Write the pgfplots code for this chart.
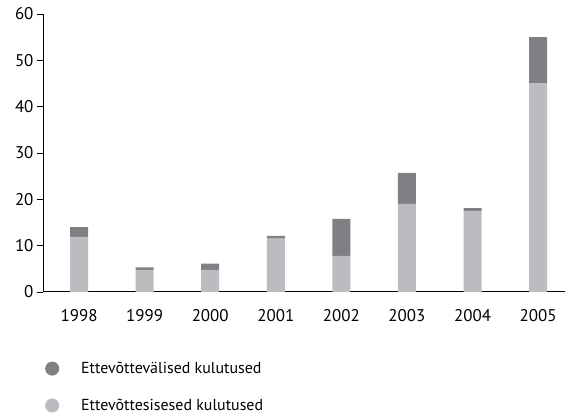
\documentclass[border=0pt]{standalone}
\usepackage{pgfplots}
\pgfplotsset{compat=1.18}
\usepackage{fontspec}
\setmainfont{PT Sans}
\usetikzlibrary{calc}
\definecolor{darkbar}{RGB}{128,128,132}
\definecolor{lightbar}{RGB}{187,188,192}

\begin{document}
\begin{tikzpicture}
\begin{axis}[
  name=ax,
  scale only axis,
  width=522bp, height=278bp,
  ybar stacked,
  bar width=18bp,
  xmin=-0.55, xmax=7.41,
  ymin=0, ymax=60,
  ytick={0,10,...,60},
  xtick=data,
  xticklabels={1998,1999,2000,2001,2002,2003,2004,2005},
  axis x line*=bottom,
  axis y line*=left,
  x axis line style={-, line width=1pt},
  y axis line style={-, line width=0.8pt},
  xtick style={draw=none},
  ytick style={black, line width=0.8pt},
  tick align=outside,
  major tick length=6bp,
  tick label style={font=\fontsize{17}{20}\selectfont},
  /pgf/number format/assume math mode=true,
  xticklabel style={yshift=-8bp},
  reverse legend,
  legend style={draw=none, at={(0,0)}, anchor=north west, xshift=-6bp, yshift=-66bp,
    font=\fontsize{16}{19}\selectfont, row sep=20bp, legend cell align=left},
  legend image code/.code={\path[draw=none,fill=none] (0,-1bp) rectangle (39bp,1bp);\fill[#1,draw=none] (12bp,0) circle (7bp);},
]
\addplot[fill=lightbar, draw=none] coordinates {
  (0,11.9) (1,4.8) (2,4.8) (3,11.5) (4,7.8) (5,19.0) (6,17.5) (7,45.1)};
\addlegendentry{Ettevõttesisesed kulutused}
\addplot[fill=darkbar, draw=none] coordinates {
  (0,2.1) (1,0.5) (2,1.3) (3,0.6) (4,8.0) (5,6.7) (6,0.6) (7,9.9)};
\addlegendentry{Ettevõttevälised kulutused}
\end{axis}
\pgfresetboundingbox
\path ($(ax.south west)+(-43bp,-122bp)$) rectangle ($(ax.north east)+(0,14bp)$);
\end{tikzpicture}
\end{document}
